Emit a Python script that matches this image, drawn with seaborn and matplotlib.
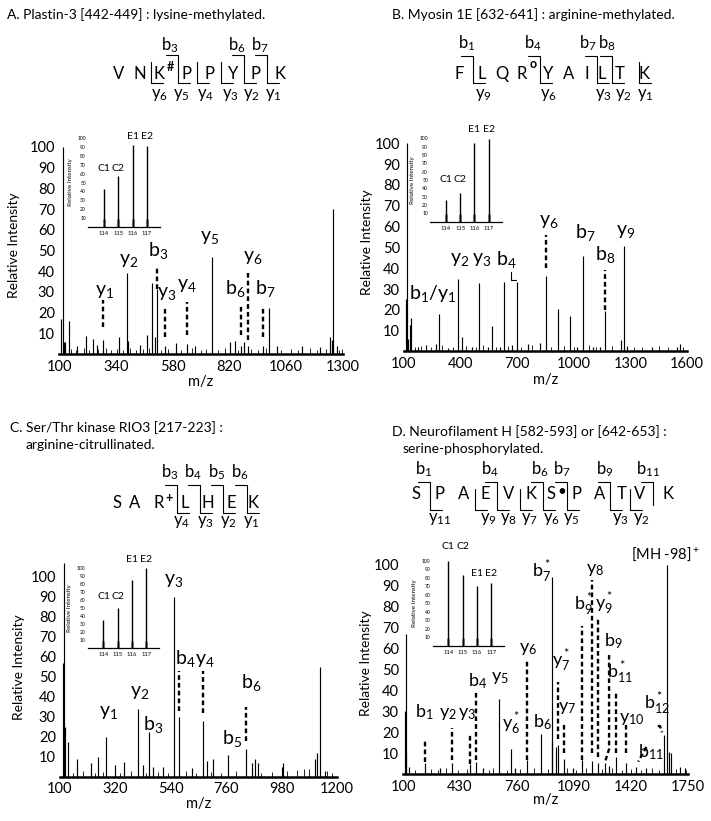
import matplotlib.pyplot as plt
from matplotlib.lines import Line2D
import seaborn as sns

# ---------------- data ----------------
# A. Plastin-3
a_mz = [109, 115, 121, 125, 143, 175, 214, 242, 259, 287, 355, 386, 390, 442, 470, 494, 505, 513,
        548, 593, 642, 674, 745, 822, 843, 868, 883, 897, 963, 986, 1020, 1126, 1203, 1245, 1252, 1259, 1273]
a_int = [17, 100, 6, 5.7, 16, 4, 8.6, 7.3, 4.4, 7, 8, 39.3, 6.5, 4.4, 9, 34.5, 8, 31.6,
         4, 5.2, 5, 3.8, 47, 5.7, 6.5, 4, 6, 3.8, 4, 22, 3.8, 4, 3.3, 8, 7, 70, 4]
a_noise_mz = [150, 172, 205, 228, 265, 300, 320, 345, 372, 400, 425, 455, 482, 530, 560, 615, 660,
              700, 720, 770, 800, 855, 910, 940, 975, 1040, 1080, 1110, 1160, 1190, 1230, 1285, 1295]
a_noise_int = [2.5, 2, 3, 2, 2.5, 3, 2, 2.5, 2, 3, 2, 2.5, 3, 2, 2.5, 2, 3,
               2, 2.5, 2, 3, 2, 2.5, 2, 3, 2, 2.5, 2, 3, 2, 2.5, 2, 2.5]
a_lab = ['y_1', 'y_2', 'b_3', 'y_3', 'y_4', 'y_5', 'b_6', 'y_6', 'b_7']
a_lab_mz = [291, 393, 520, 555, 642, 738, 843, 920, 970]
a_lab_int = [26, 41, 45, 25, 29, 52, 26.5, 42.5, 26.5]
a_dash_mz = [287, 513, 548, 642, 868, 897, 963]
a_dash_lo = [13, 31.6, 8, 9, 9, 7, 8]
a_dash_hi = [26, 42, 22.5, 25, 23, 40, 22.5]
a_seq = ['V', 'N', 'K', 'P', 'P', 'Y', 'P', 'K']
a_bions = [3, 6, 7]
a_yions = [6, 5, 4, 3, 2, 1]
a_rep = [43, 57, 92, 91]

# B. Myosin 1E
b_mz = [110, 115, 119, 130, 135, 174, 219, 268, 286, 334, 387, 410, 458, 498, 546, 569, 608, 630, 670,
        697, 755, 821, 851, 918, 978, 1016, 1051, 1104, 1140, 1163, 1249, 1264, 1281, 1414, 1547, 1561]
b_int = [25, 100, 6, 12.7, 16, 2.3, 3.1, 3.6, 17.9, 1.5, 34.8, 6.8, 2, 32.7, 2.3, 12.2, 2.3, 33.2, 3,
         33.5, 3.6, 3.9, 36.4, 20.4, 17.2, 2, 46, 2.3, 2.3, 19.6, 5.5, 50.8, 2.6, 2, 2.3, 3.6]
b_noise_mz = [160, 190, 245, 300, 360, 430, 480, 520, 590, 650, 720, 780, 880, 950, 1000, 1080,
              1120, 1200, 1320, 1360, 1450, 1500, 1580]
b_noise_int = [2, 2.5, 2, 3, 2, 2.5, 2, 3, 2, 2.5, 2, 3, 2, 2.5, 2, 3,
               2, 2.5, 2, 2, 2.5, 2, 2]
b_lab = ['b_1/y_1', 'y_2', 'y_3', 'b_4', 'y_6', 'b_7', 'b_8', 'y_9']
b_lab_mz = [254, 396, 511, 644, 865, 1060, 1166, 1276]
b_lab_int = [23, 40, 40, 39, 58.3, 52, 41.5, 53.5]
b_dash_mz = [851, 1163]
b_dash_lo = [40, 20]
b_dash_hi = [56, 39]
b_seq = ['F', 'L', 'Q', 'R', 'Y', 'A', 'I', 'L', 'T', 'K']
b_bions = [1, 4, 7, 8]
b_yions = [9, 6, 3, 2, 1]
b_rep = [26, 35, 94, 99]

# C. Ser/Thr kinase RIO3
c_mz = [112, 115, 118, 133, 166, 222, 250, 283, 318, 355, 411, 428, 455, 468, 510, 553, 573, 623, 669,
        682, 709, 768, 837, 861, 874, 887, 980, 987, 1113, 1122, 1132, 1152]
c_int = [57, 107, 25, 17.5, 9, 7, 9.7, 19.7, 6, 7.5, 33.7, 6, 22.5, 5, 5, 90, 30, 4.5, 28,
         8, 9, 11, 13.7, 6.7, 9, 7, 5, 7, 9, 12, 54.7, 3]
c_noise_mz = [150, 190, 240, 270, 340, 380, 440, 490, 530, 600, 640, 700, 740, 800, 900, 940,
              1000, 1040, 1070, 1090, 1160, 1180]
c_noise_int = [2, 3, 2, 2.5, 2, 3, 2, 2.5, 2, 3, 2, 2.5, 2, 3, 2, 2.5,
               3, 3.5, 4, 4, 3, 2]
c_lab = ['y_1', 'y_2', 'b_3', 'y_3', 'b_4', 'y_4', 'b_5', 'b_6']
c_lab_mz = [292, 418, 470, 553, 598, 677, 783, 858]
c_lab_int = [28, 38, 21, 94, 54, 54, 14, 41.7]
c_dash_mz = [573, 669, 837]
c_dash_lo = [33, 32, 18]
c_dash_hi = [53, 53, 35]
c_seq = ['S', 'A', 'R', 'L', 'H', 'E', 'K']
c_bions = [3, 4, 5, 6]
c_yions = [4, 3, 2, 1]
c_rep = [35, 51, 85, 100]

# D. Neurofilament H
d_mz = [112, 115, 118, 135, 225, 312, 386, 486, 521, 563, 656, 723, 747, 818, 901, 965, 965, 988, 997,
        1030, 1084, 1138, 1196, 1231, 1268, 1293, 1335, 1393, 1451, 1509, 1611, 1629, 1640, 1654, 1702, 1731]
d_int = [30, 67, 10, 3.6, 5.5, 2.8, 5.5, 4.9, 6, 2.8, 35.8, 11.9, 2.8, 6.8, 19.2, 94.4, 16, 13, 14,
         7.3, 2.8, 6.8, 6.5, 5.5, 5.5, 4, 8.4, 5.5, 3.6, 2.8, 18.8, 100, 10.8, 10, 3.6, 3.2]
d_noise_mz = [170, 260, 300, 350, 420, 470, 600, 620, 700, 780, 860, 940, 1050, 1100, 1160, 1250,
              1310, 1370, 1420, 1480, 1540, 1580, 1680, 1740]
d_noise_int = [2, 2.5, 2, 3, 2, 2.5, 2, 3, 2, 2.5, 3, 2.5, 3, 2, 3, 2.5,
               3, 2, 2.5, 2, 3, 2, 2.5, 2]
d_lab = ['b_1', 'y_2', 'y_3', 'b_4', 'y_5', 'y_6^*', 'y_6', 'b_6', 'b_7^*', 'y_7^*', 'y_7', 'b_9^*',
         'y_8', 'y_9^*', 'b_9', 'b_{11}^*', 'y_{10}', 'b_{11}', 'b_{12}^*', '[MH -98]']
d_lab_mz = [225, 360, 470, 534, 664, 727, 824, 907, 901, 1017, 1050, 1146,
            1210, 1262, 1316, 1358, 1425, 1538, 1568, 1620]
d_lab_int = [25, 25, 25, 40, 42, 18, 56, 20.3, 90.4, 48, 28, 74.5,
             94, 75, 59, 42, 22.7, 6, 27.5, 101]
d_dash_mz = [225, 386, 486, 521, 818, 997, 1030, 1138, 1196, 1231, 1335, 1393]
d_dash_lo = [6, 7, 5, 7, 7, 17, 10, 7, 10, 8, 10, 10]
d_dash_hi = [17, 22, 19, 40, 54.6, 44, 25, 71, 93, 74, 39, 25]
d_seq = ['S', 'P', 'A', 'E', 'V', 'K', 'S', 'P', 'A', 'T', 'V', 'K']
d_bions = [1, 4, 6, 7, 9, 11]
d_yions = [11, 9, 8, 7, 6, 5, 3, 2]
d_rep = [100, 83, 70, 74]

rep_mz = [114, 115, 116, 117]
rep_names = ['C1', 'C2', 'E1', 'E2']

# ---------------- layout (pixels, origin top-left) ----------------
W, H = 711, 821
sns.set_theme(style='white', rc={'text.color': 'black', 'axes.labelcolor': 'black',
                                 'xtick.color': 'black', 'ytick.color': 'black'})
plt.rcParams['font.family'] = ['Lato', 'DejaVu Sans']
plt.rcParams['mathtext.fontset'] = 'custom'
plt.rcParams['mathtext.rm'] = 'Lato'
plt.rcParams['mathtext.it'] = 'Lato'

fig = plt.figure(figsize=(7.11, 8.21), dpi=100)


def rect(l, r, b, t):
    return [l / W, 1 - b / H, (r - l) / W, (b - t) / H]


def put(px, py, s, **kw):
    fig.text(px / W, 1 - py / H, s, **kw)


def seg(xs, ys, lw=0.8):
    fig.add_artist(Line2D([x / W for x in xs], [1 - y / H for y in ys], color='black', lw=lw))


def spectrum(r, xlim, ylim, xticks, mz, inten, nmz, nint, lab, lmz, lint, dmz, dlo, dhi,
             ylab_dx, xlab_dy, labsize=14):
    ax = fig.add_axes(rect(*r))
    ax.vlines(nmz, 0, nint, color='black', lw=0.6)
    ax.vlines(mz, 0, inten, color='black', lw=0.85)
    ax.vlines(dmz, dlo, dhi, color='black', lw=1.7, linestyles=(0, (2.0, 1.3)))
    for s, x, y in zip(lab, lmz, lint):
        if s.startswith('['):
            ax.text(x, y, s + r'$^+$', ha='center', va='bottom', fontsize=10.5, clip_on=False)
        else:
            ax.text(x, y, r'$\mathregular{%s}$' % s, ha='center', va='bottom', fontsize=labsize,
                    clip_on=False)
    ax.set_xlim(xlim)
    ax.set_ylim(ylim)
    ax.set_xticks(xticks)
    ax.set_yticks(range(10, 101, 10))
    ax.tick_params(axis='x', length=0, pad=4, labelsize=10.5)
    ax.tick_params(axis='y', length=0, pad=3, labelsize=10.5)
    sns.despine(ax=ax, left=True)
    ax.spines['bottom'].set_linewidth(1.8)
    ax.spines['bottom'].set_color('black')
    ax.set_xlabel('m/z', fontsize=10.5)
    ax.set_ylabel('Relative Intensity', fontsize=10)
    w, h = r[1] - r[0], r[2] - r[3]
    ax.yaxis.set_label_coords(ylab_dx / w, 0.5)
    ax.xaxis.set_label_coords(0.5, -xlab_dy / h)
    return ax


def inset(r, heights, yc, ye, ylab_dx):
    ax = fig.add_axes(rect(*r))
    ax.vlines(rep_mz, 0, 9, color='0.55', lw=2.2)
    ax.vlines(rep_mz, 0, heights, color='black', lw=1.0)
    ax.set_xlim(112.9, 117.9)
    ax.set_ylim(0, 100)
    ax.set_xticks(rep_mz)
    ax.set_yticks(range(10, 101, 10))
    ax.tick_params(axis='x', length=0, pad=3, labelsize=4.2)
    ax.tick_params(axis='y', length=0, pad=1.5, labelsize=3.6)
    sns.despine(ax=ax, left=True)
    ax.spines['bottom'].set_linewidth(0.9)
    ax.spines['bottom'].set_color('black')
    ax.set_ylabel('Relative Intensity', fontsize=4.5)
    ax.yaxis.set_label_coords(ylab_dx / (r[1] - r[0]), 0.5)
    for s, x, y in zip(rep_names, rep_mz, [yc, yc, ye, ye]):
        ax.text(x, y, s, ha='center', va='center', fontsize=7.5, clip_on=False)


def sequence(seq, bions, yions, res_x, gap_x, bx, yx, y0, offs):
    top, ytop, bot, blab, ylab = offs
    n = len(seq)
    for s, x in zip(seq, res_x):
        put(x, y0 + 6, s, ha='center', va='baseline', fontsize=12)
    bcut = {k: k for k in bions}
    ycut = {n - k: k for k in yions}
    for i in sorted(set(bcut) | set(ycut)):
        x = gap_x[i - 1]
        t = y0 + (top if i in bcut else ytop)
        b = y0 + (bot if i in ycut else bot - 5)
        seg([x, x], [t, b])
        if i in bcut:
            seg([x - 12, x], [t, t])
        if i in ycut:
            seg([x, x + 12], [b, b])
    for k, x in zip(bions, bx):
        put(x, y0 + blab, r'$\mathregular{b_{%d}}$' % k, ha='center', va='center', fontsize=12)
    for k, x in zip(yions, yx):
        put(x, y0 + ylab, r'$\mathregular{y_{%d}}$' % k, ha='center', va='center', fontsize=12)


# ---------------- titles ----------------
put(7, 15, 'A. Plastin-3 [442-449] : lysine-methylated.', fontsize=10, va='center')
put(392, 15, 'B. Myosin 1E [632-641] : arginine-methylated.', fontsize=10, va='center')
put(10, 428, 'C. Ser/Thr kinase RIO3 [217-223] :', fontsize=10, va='center')
put(26, 445, 'arginine-citrullinated.', fontsize=10, va='center')
put(392, 432, 'D. Neurofilament H [582-593] or [642-653] :', fontsize=10, va='center')
put(403, 449, 'serine-phosphorylated.', fontsize=10, va='center')

# ---------------- peptide sequences ----------------
sequence(a_seq, a_bions, a_yions, [118.3, 140, 159.3, 186, 210, 232.7, 255, 280],
         [129, 150.7, 178.3, 197.3, 220.7, 244, 266.7],
         [170, 236.7, 260], [159, 181.7, 205.7, 230, 251.7, 273],
         73.3, (-18, -11.5, 10, -28.3, 22))
put(170.7, 67, '#', ha='center', va='center', fontsize=9, fontweight='bold')
sequence(b_seq, b_bions, b_yions, [459.3, 482, 501.7, 521.7, 548.3, 568.3, 586.7, 601.7, 620, 644.5],
         [473.3, 492, 511.7, 540, 558, 577.5, 596.7, 611.7, 639],
         [466.7, 533, 588, 606.7], [483, 548, 603, 623, 645],
         72.7, (-16.5, -11, 10.6, -29.4, 22.3))
put(533.3, 63.5, 'o', ha='center', va='center', fontsize=9, fontweight='bold')
sequence(c_seq, c_bions, c_yions, [116.7, 135, 158.3, 185, 208.3, 231, 253.3],
         [126, 147, 176.7, 200, 223.3, 246.7],
         [170, 193.3, 216.7, 240], [181.7, 205, 228.3, 251.7],
         501.7, (-16.7, -10, 11.6, -30, 20))
put(169.3, 498, '+', ha='center', va='center', fontsize=9, fontweight='bold')
sequence(d_seq, d_bions, d_yions, [416, 440, 464, 485, 508.3, 530.7, 551, 576.7, 599.3, 621.7, 640, 668.3],
         [430, 452, 475, 497.3, 520, 543.3, 566.7, 588, 610, 630, 653.3],
         [423.3, 490, 540, 561.7, 605, 648.3], [440, 488.3, 508.3, 530, 551.7, 571.7, 620, 641.7],
         493.3, (-11, -4, 16.5, -24.5, 25.5))
put(561.7, 491.7, '\u2022', ha='center', va='center', fontsize=11)

# ---------------- spectra ----------------
axA = spectrum((59, 343, 354, 136.6), (100, 1300), (0, 105), [100, 340, 580, 820, 1060, 1300],
               a_mz, a_int, a_noise_mz, a_noise_int, a_lab, a_lab_mz, a_lab_int,
               a_dash_mz, a_dash_lo, a_dash_hi, -39, 21)
axB = spectrum((404, 687, 351.5, 132.9), (100, 1600), (0, 105), [100, 400, 700, 1000, 1300, 1600],
               b_mz, b_int, b_noise_mz, b_noise_int, b_lab, b_lab_mz, b_lab_int,
               b_dash_mz, b_dash_lo, b_dash_hi, -31, 21.5)
axB.plot([665, 665, 693], [38.3, 34.3, 34.3], color='black', lw=0.8)
axC = spectrum((60, 337, 776.7, 556.7), (100, 1200), (0, 110), [100, 320, 540, 760, 980, 1200],
               c_mz, c_int, c_noise_mz, c_noise_int, c_lab, c_lab_mz, c_lab_int,
               c_dash_mz, c_dash_lo, c_dash_hi, -35, 20)
axD = spectrum((403, 688, 774.2, 552.4), (100, 1750), (0, 106), [100, 430, 760, 1090, 1420, 1750],
               d_mz, d_int, d_noise_mz, d_noise_int, d_lab, d_lab_mz, d_lab_int,
               d_dash_mz, d_dash_lo, d_dash_hi, -31, 19, labsize=13)
dash = dict(color='black', lw=1.7, ls=(0, (2.0, 1.3)))
axD.plot([1293, 1293, 1272], [57, 12, 6.5], **dash)
axD.plot([1509, 1462], [13, 6], **dash)
axD.plot([1575, 1588, 1600], [23, 23, 20], **dash)

# ---------------- reporter-ion insets ----------------
inset((88, 160, 226.7, 138.3), a_rep, 66, 102, -15.3)
inset((430, 501.7, 221.7, 138.3), b_rep, 50, 110, -15.3)
inset((87.7, 159.3, 648.3, 568.3), c_rep, 64.5, 111, -15.3)
inset((432.7, 504, 646, 560.7), d_rep, 117, 85, -15.3)

fig.savefig('out.png', dpi=100)
